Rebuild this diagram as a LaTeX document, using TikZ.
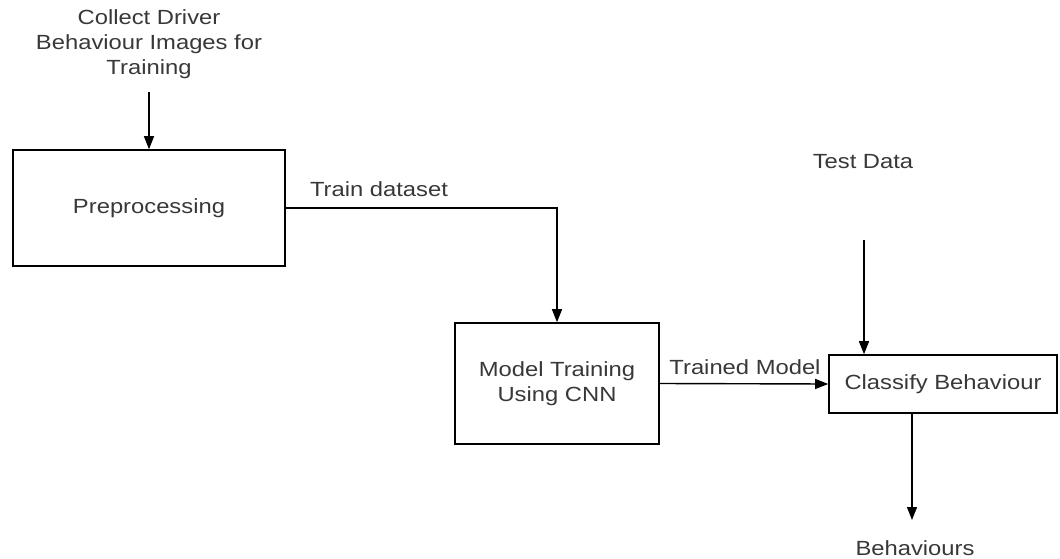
\documentclass[tikz,border=0pt]{standalone}
\usepackage{fontspec}
\setmainfont{Liberation Sans}[FakeStretch=1.16]
\usetikzlibrary{arrows.meta}
\begin{document}
\begin{tikzpicture}[x=1pt,y=-1pt,
  txt/.style={text=black!78, font=\fontsize{20.5}{25}\selectfont, inner sep=0pt, align=center},
  procbox/.style={draw, line width=1.6pt, rectangle, inner sep=0pt, txt},
  flow/.style={draw, line width=1.4pt, -{Triangle[width=10pt,length=13pt]}}]
\useasboundingbox (0,0) rectangle (1060,559);
\node[procbox, minimum width=272pt, minimum height=116pt] (pre) at (149,208) {Preprocessing};
\node[procbox, minimum width=204pt, minimum height=121pt] (mt) at (557,383.5) {Model Training\\Using CNN};
\node[procbox, minimum width=228pt, minimum height=58pt] (cb) at (943,384) {Classify Behaviour};
\node[txt] (collect) at (149,44) {Collect Driver\\Behaviour Images for\\Training};
\node[txt] (test) at (863,162) {Test Data};
\node[txt] (beh) at (915,548) {Behaviours};
\node[txt] (lbltrain) at (379,189) {Train dataset};
\node[txt] (lbltrained) at (745,367) {Trained Model};
\coordinate (cstart) at (149,92);
\coordinate (tstart) at (864,240);
\coordinate (ostart) at (912,413);
\coordinate (oend) at (912,520);
\draw[flow] (cstart) -- (pre.north);
\draw[flow] (pre.east) -| (mt.north);
\draw[flow] (mt.east) -- (cb.west);
\draw[flow] (tstart) -- (tstart |- cb.north);
\draw[flow] (ostart |- cb.south) -- (oend);
\end{tikzpicture}
\end{document}
